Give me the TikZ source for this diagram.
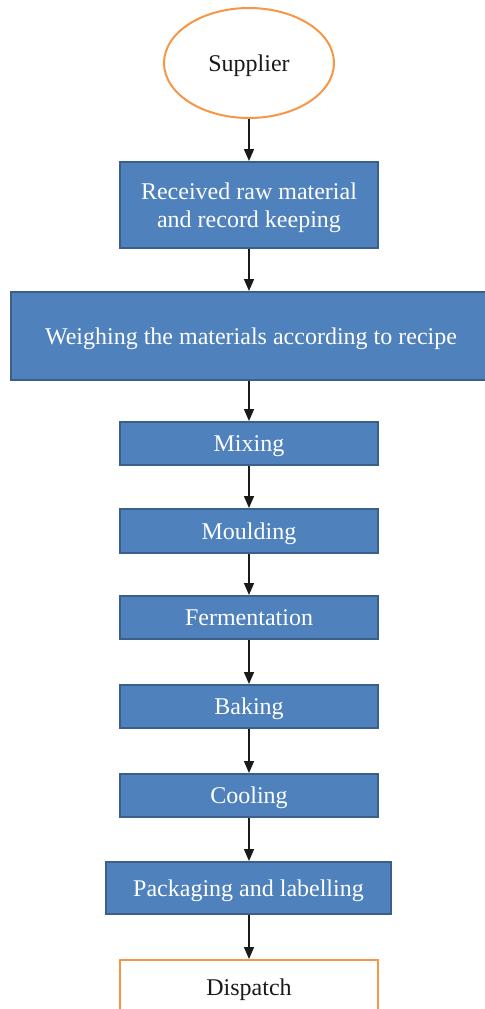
\documentclass[tikz,border=0pt]{standalone}
\usepackage{fontspec}
\setmainfont{Liberation Serif}
\usetikzlibrary{shapes.geometric,arrows.meta}
\definecolor{stepblue}{HTML}{4F81BD}
\definecolor{stepedge}{HTML}{3A5F8B}
\definecolor{endorange}{HTML}{F79646}
\definecolor{textdark}{HTML}{1A1A1A}
\tikzset{
  labelfont/.style={font=\fontsize{12}{14}\selectfont, text depth=0pt},
  stepbox/.style={rectangle, draw=stepedge, fill=stepblue, line width=1pt,
    text=white, labelfont, align=center, inner sep=0pt},
  endbox/.style={rectangle, draw=endorange, fill=white, line width=1pt,
    text=textdark, labelfont, align=center, inner sep=0pt},
  flow/.style={-{Triangle[length=6pt,width=5pt]}, line width=0.8pt, draw=textdark},
}
\begin{document}
\begin{tikzpicture}[x=0.5pt,y=-0.5pt]
\useasboundingbox (0,0) rectangle (484,1009);
% start of the chain
\node[ellipse, draw=endorange, line width=1pt, fill=white, inner sep=0pt,
      minimum width=85pt, minimum height=55pt, text=textdark, labelfont]
      (supplier) at (249,63) {Supplier};
% process steps
\node[stepbox, minimum width=129pt, minimum height=43pt] (received) at (249,205)
  {Received raw material\\and record keeping};
\node[stepbox, minimum width=240pt, minimum height=44pt] (weigh) at (251,336)
  {Weighing the materials according to recipe};
\node[stepbox, minimum width=129pt, minimum height=21.5pt] (mix) at (249,443.5) {Mixing};
\node[stepbox, minimum width=129pt, minimum height=22pt] (mould) at (249,531) {Moulding};
\node[stepbox, minimum width=129pt, minimum height=21.5pt] (ferment) at (249,617.5) {Fermentation};
\node[stepbox, minimum width=129pt, minimum height=21.5pt] (bake) at (249,706.5) {Baking};
\node[stepbox, minimum width=129pt, minimum height=21.5pt] (cool) at (249,795.5) {Cooling};
\node[stepbox, minimum width=142.5pt, minimum height=26pt] (pack) at (248.5,888) {Packaging and labelling};
% end of the chain, running off the lower edge
\node[endbox, minimum width=129pt, minimum height=27pt] (dispatch) at (249,987) {Dispatch};
% connectors
\draw[flow] (supplier) -- (received);
\draw[flow] (received) -- (received |- weigh.north);
\draw[flow] (received |- weigh.south) -- (mix);
\draw[flow] (mix) -- (mould);
\draw[flow] (mould) -- (ferment);
\draw[flow] (ferment) -- (bake);
\draw[flow] (bake) -- (cool);
\draw[flow] (cool) -- (cool |- pack.north);
\draw[flow] (cool |- pack.south) -- (dispatch);
\end{tikzpicture}
\end{document}
